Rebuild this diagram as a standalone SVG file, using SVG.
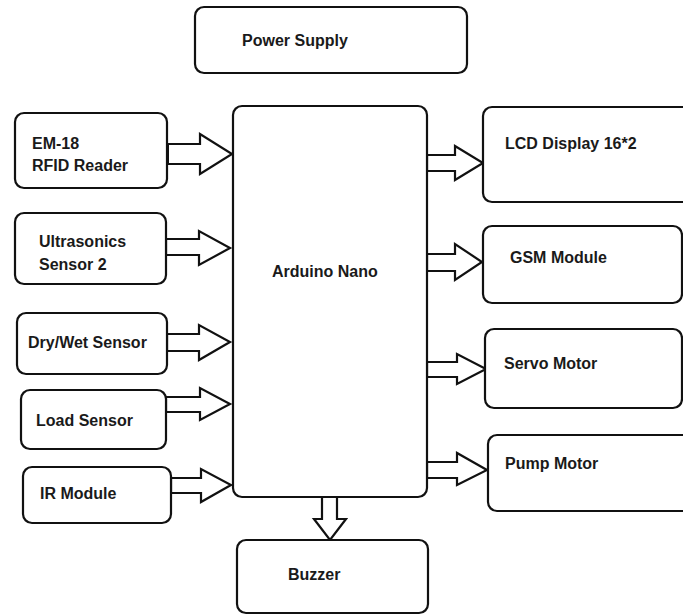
<svg xmlns="http://www.w3.org/2000/svg" width="683" height="615" viewBox="0 0 683 615">
<style>
.box{fill:#fff;stroke:#111;stroke-width:2.2}
.arr{fill:#fff;stroke:#111;stroke-width:2.2;stroke-linejoin:miter}
text{font-family:"Liberation Sans",Arial,sans-serif;font-weight:bold;font-size:16px;fill:#1a1a1a}
</style>
<rect width="683" height="615" fill="#fff"/>
<g id="connectors">
<polygon class="arr" points="167,144 200,144 200,134 232,154 200,174 200,164 167,164"/>
<line x1="167" y1="144" x2="167" y2="164" stroke="#111" stroke-width="4"/>
<polygon class="arr" points="166,239 199,239 199,231 230,248 199,265 199,255 166,255"/>
<polygon class="arr" points="167,334 199,334 199,325 230,342 199,360 199,351 167,351"/>
<polygon class="arr" points="166,397 200,397 200,388 230,404 200,420 200,412 166,412"/>
<polygon class="arr" points="171,478 201,478 201,469 231,485 201,502 201,493 171,493"/>
<polygon class="arr" points="427,155 455,155 455,146 483,163 455,180 455,171 427,171"/>
<polygon class="arr" points="427,254 455,254 455,244 482,262 455,280 455,271 427,271"/>
<polygon class="arr" points="427,362 457,362 457,354 486,369 457,384 457,377 427,377"/>
<polygon class="arr" points="427,462 457,462 457,453 487,470 457,485 457,478 427,478"/>
<polygon class="arr" points="322,497 337,497 337,519 346,519 330,540 314,519 322,519"/>
</g>
<g id="power-supply"><rect class="box" x="195" y="7" width="272" height="66" rx="9"/><text x="242" y="46">Power Supply</text></g>
<g id="arduino"><rect class="box" x="233" y="106" width="194" height="391" rx="9"/><text x="272" y="277">Arduino Nano</text></g>
<g id="em18"><rect class="box" x="15" y="113" width="152" height="75" rx="9"/><text x="32" y="149">EM-18</text><text x="32" y="171">RFID Reader</text></g>
<g id="ultrasonics"><rect class="box" x="15" y="213" width="151" height="71" rx="9"/><text x="39" y="247">Ultrasonics</text><text x="39" y="270">Sensor 2</text></g>
<g id="drywet"><rect class="box" x="17" y="313" width="150" height="61" rx="9"/><text x="28" y="348">Dry/Wet Sensor</text></g>
<g id="load"><rect class="box" x="21" y="390" width="145" height="59" rx="9"/><text x="36" y="426">Load Sensor</text></g>
<g id="ir"><rect class="box" x="23" y="467" width="148" height="56" rx="9"/><text x="40" y="499">IR Module</text></g>
<g id="lcd"><rect class="box" x="483" y="107" width="210" height="95" rx="9"/><text x="505" y="149">LCD Display 16*2</text></g>
<g id="gsm"><rect class="box" x="483" y="226" width="199" height="77" rx="9"/><text x="510" y="263">GSM Module</text></g>
<g id="servo"><rect class="box" x="485" y="329" width="197" height="79" rx="9"/><text x="504" y="369">Servo Motor</text></g>
<g id="pump"><rect class="box" x="488" y="435" width="205" height="76" rx="9"/><text x="505" y="469">Pump Motor</text></g>
<g id="buzzer"><rect class="box" x="237" y="540" width="191" height="73" rx="9"/><text x="288" y="580">Buzzer</text></g>
</svg>
